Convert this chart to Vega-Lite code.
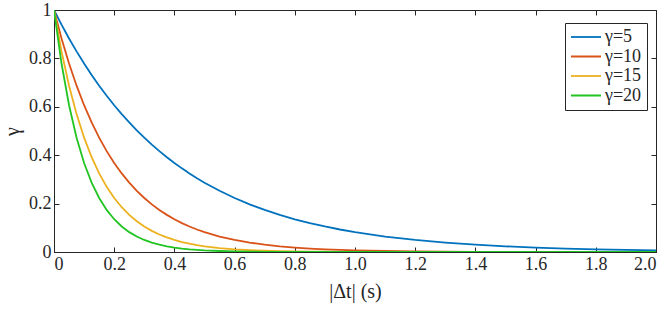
{
  "$schema": "https://vega.github.io/schema/vega-lite/v6.json",
  "width": 602,
  "height": 242,
  "autosize": {"type": "none"},
  "padding": {"left": 54, "top": 10, "right": 15, "bottom": 60},
  "background": "white",
  "config": {
    "view": {"stroke": "#262626", "strokeWidth": 1},
    "font": "Liberation Serif",
    "axis": {
      "domainColor": "#262626",
      "tickColor": "#262626",
      "labelColor": "#262626",
      "titleColor": "#262626",
      "titleFontWeight": "normal",
      "grid": false,
      "tickSize": -5,
      "labelPadding": 8
    }
  },
  "data": {
    "values": [
      {"t":0,"g":"γ=5","v":1},{"t":0.025,"g":"γ=5","v":0.9394},{"t":0.05,"g":"γ=5","v":0.8825},{"t":0.075,"g":"γ=5","v":0.829},{"t":0.1,"g":"γ=5","v":0.7788},{"t":0.125,"g":"γ=5","v":0.7316},{"t":0.15,"g":"γ=5","v":0.6873},{"t":0.175,"g":"γ=5","v":0.6456},{"t":0.2,"g":"γ=5","v":0.6065},{"t":0.225,"g":"γ=5","v":0.5698},{"t":0.25,"g":"γ=5","v":0.5353},{"t":0.275,"g":"γ=5","v":0.5028},{"t":0.3,"g":"γ=5","v":0.4724},{"t":0.325,"g":"γ=5","v":0.4437},{"t":0.35,"g":"γ=5","v":0.4169},{"t":0.375,"g":"γ=5","v":0.3916},{"t":0.4,"g":"γ=5","v":0.3679},{"t":0.425,"g":"γ=5","v":0.3456},{"t":0.45,"g":"γ=5","v":0.3247},{"t":0.475,"g":"γ=5","v":0.305},{"t":0.5,"g":"γ=5","v":0.2865},{"t":0.55,"g":"γ=5","v":0.2528},{"t":0.6,"g":"γ=5","v":0.2231},{"t":0.65,"g":"γ=5","v":0.1969},{"t":0.7,"g":"γ=5","v":0.1738},{"t":0.75,"g":"γ=5","v":0.1534},{"t":0.8,"g":"γ=5","v":0.1353},{"t":0.85,"g":"γ=5","v":0.1194},{"t":0.9,"g":"γ=5","v":0.1054},{"t":0.95,"g":"γ=5","v":0.093},{"t":1.0,"g":"γ=5","v":0.0821},{"t":1.1,"g":"γ=5","v":0.0639},{"t":1.2,"g":"γ=5","v":0.0498},{"t":1.3,"g":"γ=5","v":0.0388},{"t":1.4,"g":"γ=5","v":0.0302},{"t":1.5,"g":"γ=5","v":0.0235},{"t":1.6,"g":"γ=5","v":0.0183},{"t":1.7,"g":"γ=5","v":0.0143},{"t":1.8,"g":"γ=5","v":0.0111},{"t":1.9,"g":"γ=5","v":0.0087},{"t":2.0,"g":"γ=5","v":0.0067},
      {"t":0,"g":"γ=10","v":1},{"t":0.025,"g":"γ=10","v":0.8825},{"t":0.05,"g":"γ=10","v":0.7788},{"t":0.075,"g":"γ=10","v":0.6873},{"t":0.1,"g":"γ=10","v":0.6065},{"t":0.125,"g":"γ=10","v":0.5353},{"t":0.15,"g":"γ=10","v":0.4724},{"t":0.175,"g":"γ=10","v":0.4169},{"t":0.2,"g":"γ=10","v":0.3679},{"t":0.225,"g":"γ=10","v":0.3247},{"t":0.25,"g":"γ=10","v":0.2865},{"t":0.275,"g":"γ=10","v":0.2528},{"t":0.3,"g":"γ=10","v":0.2231},{"t":0.325,"g":"γ=10","v":0.1969},{"t":0.35,"g":"γ=10","v":0.1738},{"t":0.375,"g":"γ=10","v":0.1534},{"t":0.4,"g":"γ=10","v":0.1353},{"t":0.425,"g":"γ=10","v":0.1194},{"t":0.45,"g":"γ=10","v":0.1054},{"t":0.475,"g":"γ=10","v":0.093},{"t":0.5,"g":"γ=10","v":0.0821},{"t":0.55,"g":"γ=10","v":0.0639},{"t":0.6,"g":"γ=10","v":0.0498},{"t":0.65,"g":"γ=10","v":0.0388},{"t":0.7,"g":"γ=10","v":0.0302},{"t":0.75,"g":"γ=10","v":0.0235},{"t":0.8,"g":"γ=10","v":0.0183},{"t":0.85,"g":"γ=10","v":0.0143},{"t":0.9,"g":"γ=10","v":0.0111},{"t":0.95,"g":"γ=10","v":0.0087},{"t":1.0,"g":"γ=10","v":0.0067},{"t":1.1,"g":"γ=10","v":0.0041},{"t":1.2,"g":"γ=10","v":0.0025},{"t":1.3,"g":"γ=10","v":0.0015},{"t":1.4,"g":"γ=10","v":0.0009},{"t":1.5,"g":"γ=10","v":0.0006},{"t":1.6,"g":"γ=10","v":0.0003},{"t":1.7,"g":"γ=10","v":0.0002},{"t":1.8,"g":"γ=10","v":0.0001},{"t":1.9,"g":"γ=10","v":0.0001},{"t":2.0,"g":"γ=10","v":0},
      {"t":0,"g":"γ=15","v":1},{"t":0.025,"g":"γ=15","v":0.829},{"t":0.05,"g":"γ=15","v":0.6873},{"t":0.075,"g":"γ=15","v":0.5698},{"t":0.1,"g":"γ=15","v":0.4724},{"t":0.125,"g":"γ=15","v":0.3916},{"t":0.15,"g":"γ=15","v":0.3247},{"t":0.175,"g":"γ=15","v":0.2691},{"t":0.2,"g":"γ=15","v":0.2231},{"t":0.225,"g":"γ=15","v":0.185},{"t":0.25,"g":"γ=15","v":0.1534},{"t":0.275,"g":"γ=15","v":0.1271},{"t":0.3,"g":"γ=15","v":0.1054},{"t":0.325,"g":"γ=15","v":0.0874},{"t":0.35,"g":"γ=15","v":0.0724},{"t":0.375,"g":"γ=15","v":0.0601},{"t":0.4,"g":"γ=15","v":0.0498},{"t":0.425,"g":"γ=15","v":0.0413},{"t":0.45,"g":"γ=15","v":0.0342},{"t":0.475,"g":"γ=15","v":0.0284},{"t":0.5,"g":"γ=15","v":0.0235},{"t":0.55,"g":"γ=15","v":0.0162},{"t":0.6,"g":"γ=15","v":0.0111},{"t":0.65,"g":"γ=15","v":0.0076},{"t":0.7,"g":"γ=15","v":0.0052},{"t":0.75,"g":"γ=15","v":0.0036},{"t":0.8,"g":"γ=15","v":0.0025},{"t":0.85,"g":"γ=15","v":0.0017},{"t":0.9,"g":"γ=15","v":0.0012},{"t":0.95,"g":"γ=15","v":0.0008},{"t":1.0,"g":"γ=15","v":0.0006},{"t":1.1,"g":"γ=15","v":0.0003},{"t":1.2,"g":"γ=15","v":0.0001},{"t":1.3,"g":"γ=15","v":0.0001},{"t":1.4,"g":"γ=15","v":0},{"t":1.5,"g":"γ=15","v":0},{"t":1.6,"g":"γ=15","v":0},{"t":1.7,"g":"γ=15","v":0},{"t":1.8,"g":"γ=15","v":0},{"t":1.9,"g":"γ=15","v":0},{"t":2.0,"g":"γ=15","v":0},
      {"t":0,"g":"γ=20","v":1},{"t":0.025,"g":"γ=20","v":0.7788},{"t":0.05,"g":"γ=20","v":0.6065},{"t":0.075,"g":"γ=20","v":0.4724},{"t":0.1,"g":"γ=20","v":0.3679},{"t":0.125,"g":"γ=20","v":0.2865},{"t":0.15,"g":"γ=20","v":0.2231},{"t":0.175,"g":"γ=20","v":0.1738},{"t":0.2,"g":"γ=20","v":0.1353},{"t":0.225,"g":"γ=20","v":0.1054},{"t":0.25,"g":"γ=20","v":0.0821},{"t":0.275,"g":"γ=20","v":0.0639},{"t":0.3,"g":"γ=20","v":0.0498},{"t":0.325,"g":"γ=20","v":0.0388},{"t":0.35,"g":"γ=20","v":0.0302},{"t":0.375,"g":"γ=20","v":0.0235},{"t":0.4,"g":"γ=20","v":0.0183},{"t":0.425,"g":"γ=20","v":0.0143},{"t":0.45,"g":"γ=20","v":0.0111},{"t":0.475,"g":"γ=20","v":0.0087},{"t":0.5,"g":"γ=20","v":0.0067},{"t":0.55,"g":"γ=20","v":0.0041},{"t":0.6,"g":"γ=20","v":0.0025},{"t":0.65,"g":"γ=20","v":0.0015},{"t":0.7,"g":"γ=20","v":0.0009},{"t":0.75,"g":"γ=20","v":0.0006},{"t":0.8,"g":"γ=20","v":0.0003},{"t":0.85,"g":"γ=20","v":0.0002},{"t":0.9,"g":"γ=20","v":0.0001},{"t":0.95,"g":"γ=20","v":0.0001},{"t":1.0,"g":"γ=20","v":0},{"t":1.1,"g":"γ=20","v":0},{"t":1.2,"g":"γ=20","v":0},{"t":1.3,"g":"γ=20","v":0},{"t":1.4,"g":"γ=20","v":0},{"t":1.5,"g":"γ=20","v":0},{"t":1.6,"g":"γ=20","v":0},{"t":1.7,"g":"γ=20","v":0},{"t":1.8,"g":"γ=20","v":0},{"t":1.9,"g":"γ=20","v":0},{"t":2.0,"g":"γ=20","v":0}
    ]
  },
  "layer": [
    {
      "mark": {"type": "line", "strokeWidth": 1.8, "clip": true},
      "encoding": {
        "x": {
          "field": "t", "type": "quantitative",
          "scale": {"domain": [0, 2], "nice": false},
          "axis": {
            "title": "|Δt| (s)",
            "values": [0, 0.2, 0.4, 0.6, 0.8, 1.0, 1.2, 1.4, 1.6, 1.8, 2.0],
            "labelExpr": "datum.value == 0 ? '0' : format(datum.value, '.1f')",
            "labelFont": "Liberation Serif",
            "labelFontSize": 18,
            "titleFont": "Liberation Serif",
            "titleFontSize": 20,
            "titlePadding": 8
          }
        },
        "y": {
          "field": "v", "type": "quantitative",
          "scale": {"domain": [0, 1], "nice": false},
          "axis": {
            "title": "γ",
            "titleAngle": -90,
            "values": [0, 0.2, 0.4, 0.6, 0.8, 1],
            "labelExpr": "datum.value == 0 ? '0' : datum.value == 1 ? '1' : format(datum.value, '.1f')",
            "labelFont": "Liberation Serif",
            "labelFontSize": 18,
            "titleFont": "Liberation Serif",
            "titleFontSize": 20,
            "titlePadding": 6
          }
        },
        "color": {
          "field": "g", "type": "nominal",
          "scale": {
            "domain": ["γ=5", "γ=10", "γ=15", "γ=20"],
            "range": ["#0072BD", "#D95319", "#EDB120", "#22C422"]
          },
          "legend": {
            "title": null,
            "orient": "none",
            "legendX": 511,
            "legendY": 13,
            "symbolType": "stroke",
            "symbolStrokeWidth": 1.8,
            "symbolSize": 900,
            "clipHeight": 18,
            "rowPadding": 1.5,
            "labelFont": "Liberation Serif",
            "labelFontSize": 18,
            "labelColor": "#262626",
            "strokeColor": "#262626",
            "fillColor": "white",
            "padding": 5,
            "labelOffset": 3
          }
        }
      }
    },
    {
      "mark": {"type": "line", "opacity": 0},
      "encoding": {
        "x": {
          "field": "t", "type": "quantitative",
          "axis": {"orient": "top", "title": null, "labels": false, "domain": false, "values": [0, 0.2, 0.4, 0.6, 0.8, 1.0, 1.2, 1.4, 1.6, 1.8, 2.0]}
        },
        "y": {
          "field": "v", "type": "quantitative",
          "axis": {"orient": "right", "title": null, "labels": false, "domain": false, "values": [0, 0.2, 0.4, 0.6, 0.8, 1]}
        },
        "detail": {"field": "g"}
      }
    }
  ],
  "resolve": {"axis": {"x": "independent", "y": "independent"}}
}
